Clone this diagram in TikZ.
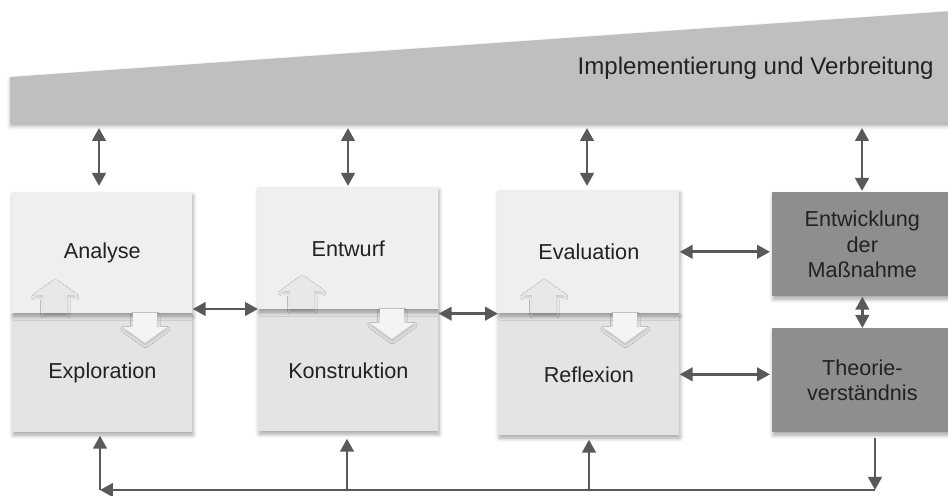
\documentclass[tikz,border=0pt]{standalone}
\usepackage{fontspec}
\setmainfont{Liberation Sans}
\usetikzlibrary{arrows.meta,shadows.blur}
\definecolor{bandgray}{HTML}{BFBFBF}
\definecolor{upperfill}{HTML}{EFEFEF}
\definecolor{lowerfill}{HTML}{E4E4E4}
\definecolor{darkfill}{HTML}{8E8E8E}
\definecolor{arrowgray}{HTML}{595959}
\definecolor{txt}{HTML}{222222}
\definecolor{upfill}{HTML}{E8E8E8}
\definecolor{downfill}{HTML}{F4F4F4}

\begin{document}
\begin{tikzpicture}[x=0.02cm,y=-0.02cm,
  >={Triangle[width=0.27cm,length=0.26cm]},
  softshadow/.style={blur shadow={shadow xshift=0.4pt,shadow yshift=-1.6pt,
      shadow blur radius=2.2pt,shadow opacity=35}},
  faintshadow/.style={blur shadow={shadow xshift=0.2pt,shadow yshift=-1.2pt,
      shadow blur radius=1.6pt,shadow opacity=18}},
  part/.style={draw=none,inner sep=0pt,anchor=north west,text=txt,
      font=\fontsize{12.3}{14.7}\selectfont,align=center,softshadow},
  upperpart/.style={part,fill=upperfill},
  lowerpart/.style={part,fill=lowerfill},
  darkpart/.style={part,fill=darkfill,minimum width=3.6cm,minimum height=2.08cm},
  conn/.style={draw=arrowgray,line width=0.055cm},
  uparrow/.pic={\fill[upfill,faintshadow] (-12,0) -- (-12,-18) -- (-21,-18)
      -- (0,-33) -- (21,-18) -- (12,-18) -- (12,0) -- cycle;},
  downarrow/.pic={\fill[downfill,faintshadow] (-12,0) -- (12,0) -- (12,14)
      -- (22,14) -- (0,30) -- (-22,14) -- (-12,14) -- cycle;}
]
\useasboundingbox (0,0) rectangle (948,496);

% band on top
\fill[bandgray,softshadow] (10,77) -- (952,11) -- (952,123) -- (10,123) -- cycle;
\node[anchor=east,text=txt,font=\fontsize{13.7}{16}\selectfont,inner sep=0pt]
  (bandtext) at (934,68) {Implementierung und Verbreitung};
\coordinate (t1) at (99,123);
\coordinate (t2) at (348,123);
\coordinate (t3) at (587,123);
\coordinate (t4) at (862,123);

% three two-part boxes
\node[lowerpart,minimum width=3.6cm,minimum height=2.38cm] (expl) at (12,313) {Exploration};
\node[upperpart,minimum width=3.6cm,minimum height=2.42cm] (anal) at (12,192) {Analyse};
\node[lowerpart,minimum width=3.6cm,minimum height=2.44cm] (kons) at (258,309) {Konstruktion};
\node[upperpart,minimum width=3.6cm,minimum height=2.44cm] (entwurf) at (258,187) {Entwurf};
\node[lowerpart,minimum width=3.62cm,minimum height=2.44cm] (refl) at (498,313) {Reflexion};
\node[upperpart,minimum width=3.62cm,minimum height=2.46cm] (eval) at (498,190) {Evaluation};

% block arrows inside the boxes
\pic at (55,313) {uparrow};
\pic at (145,313) {downarrow};
\pic at (302,309) {uparrow};
\pic at (392,309) {downarrow};
\pic at (544,313) {uparrow};
\pic at (625,313) {downarrow};

% dark boxes
\node[darkpart] (entw) at (772,192) {Entwicklung\\der\\Maßnahme};
\node[darkpart] (theo) at (772,328) {Theorie-\\verständnis};

% arrows to the band
\draw[conn,<->,shorten <=0.1cm,shorten >=0.12cm] (t1) -- (t1 |- anal.north);
\draw[conn,<->,shorten <=0.1cm,shorten >=0.02cm] (t2) -- (t2 |- entwurf.north);
\draw[conn,<->,shorten <=0.1cm,shorten >=0.08cm] (t3) -- (t3 |- eval.north);
\draw[conn,<->,shorten <=0.1cm,shorten >=0.02cm] (t4) -- (t4 |- entw.north);

% arrows between the boxes
\draw[conn,<->] (anal.south east |- kons.north) -- (kons.north west);
\draw[conn,<->] (kons.north east |- eval.south west) -- (eval.south west);
\draw[conn,<->,shorten >=0.04cm] (eval.east) -- (eval.east -| entw.west);
\draw[conn,<->,shorten >=0.04cm] (refl.east) -- (refl.east -| theo.west);
\draw[conn,<->] (entw.south) -- (theo.north);

% feedback line at the bottom
\coordinate (b1) at (100,490);
\coordinate (b2) at (347,490);
\coordinate (b3) at (589,490);
\coordinate (b4) at (875,490);
\draw[conn,->,shorten <=0.1cm] (b4 |- theo.south) -- (b4);
\draw[conn,->] (b4) -- (b1);
\draw[conn,->,shorten >=0.06cm] (b1) -- (b1 |- expl.south);
\draw[conn,->,shorten >=0.14cm] (b2) -- (b2 |- kons.south);
\draw[conn,->,shorten >=0.08cm] (b3) -- (b3 |- refl.south);
\end{tikzpicture}
\end{document}
